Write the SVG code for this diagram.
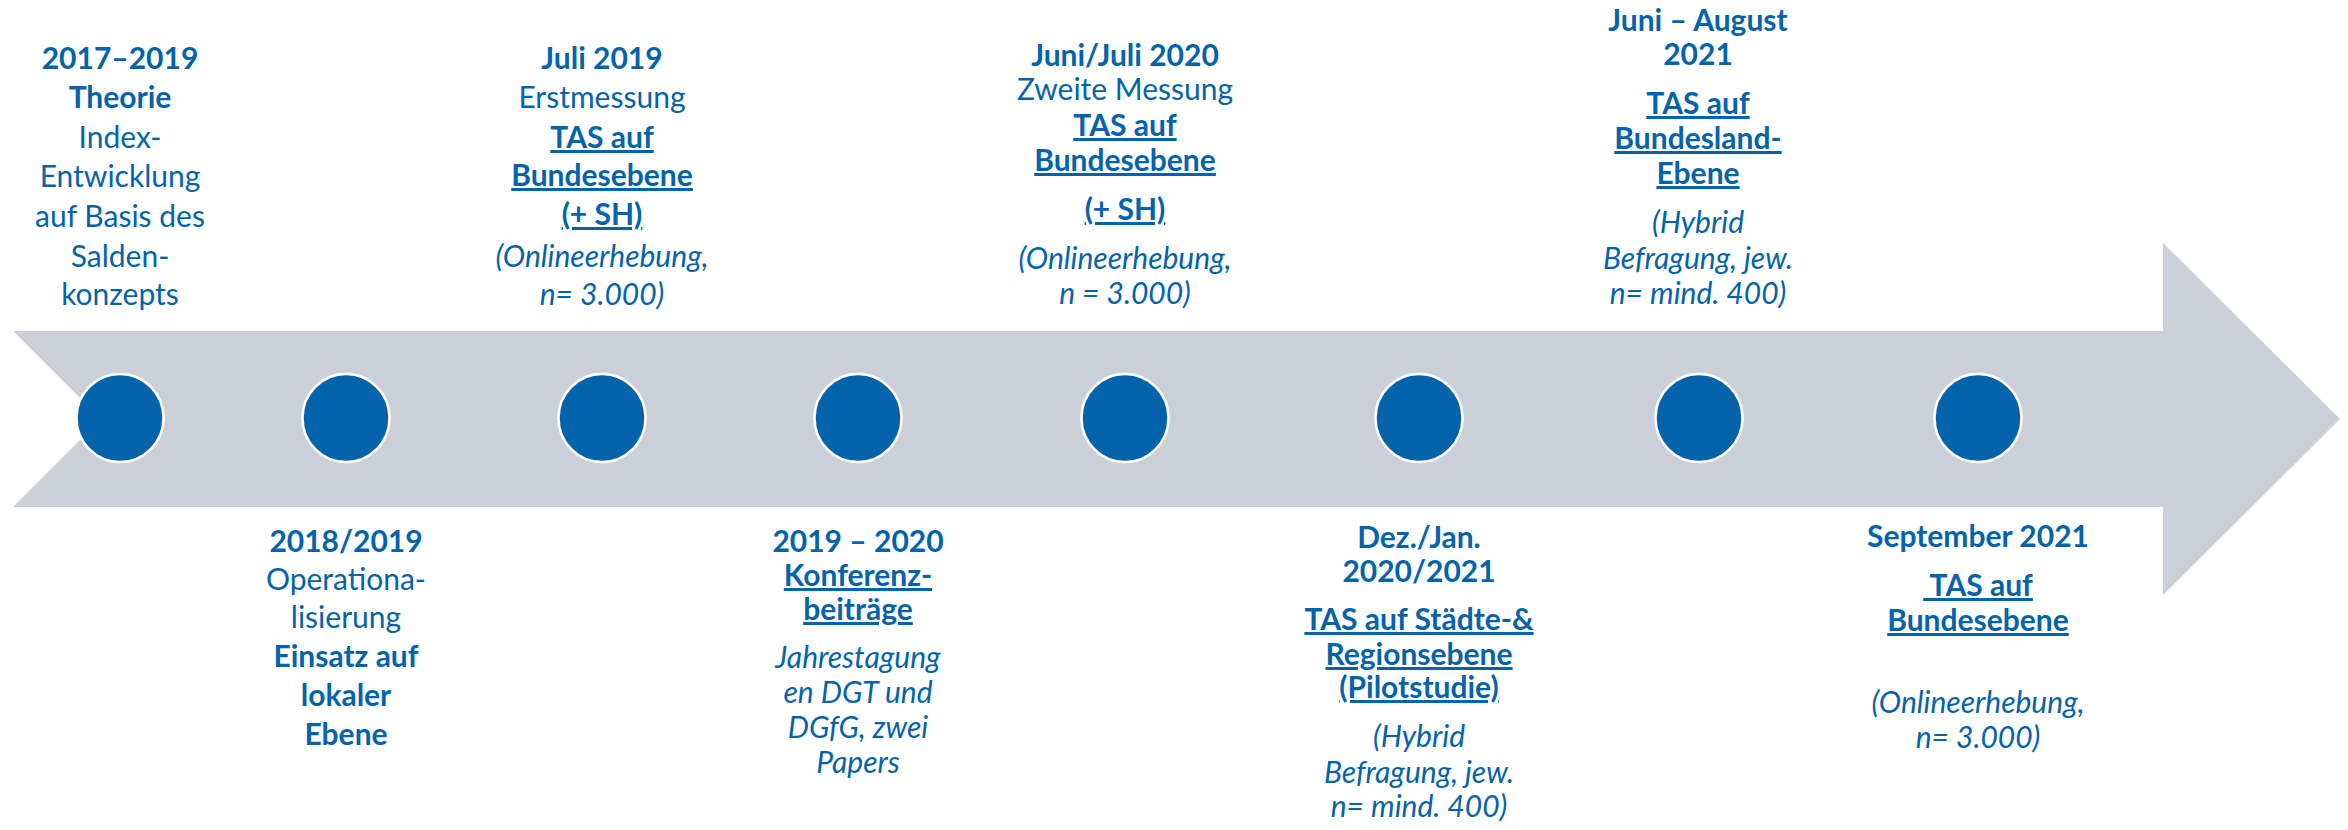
<svg xmlns="http://www.w3.org/2000/svg" width="2348" height="830" viewBox="0 0 2348 830">
<style>
text{font-family:Lato,"Noto Sans","Liberation Sans",sans-serif;font-size:30px;fill:#0563AB;text-anchor:middle}
.b{font-weight:bold}
.i{font-style:italic}
.u{text-decoration:underline;text-decoration-thickness:3px;text-underline-offset:4px}
.dot{fill:#0563AB;stroke:#ffffff;stroke-width:2.5}
</style>
<rect width="2348" height="830" fill="#ffffff"/>
<g id="timeline-arrow">
<path d="M13,331 L2163,331 L2163,243 L2340,419 L2163,595 L2163,507 L13,507 L101,419 Z" fill="#CBCFD7"/>
</g>
<g id="connectors"></g>
<g id="dots">
<ellipse class="dot" cx="120" cy="418" rx="43.5" ry="44"/>
<ellipse class="dot" cx="346" cy="418" rx="43.5" ry="44"/>
<ellipse class="dot" cx="602" cy="418" rx="43.5" ry="44"/>
<ellipse class="dot" cx="858" cy="418" rx="43.5" ry="44"/>
<ellipse class="dot" cx="1125" cy="418" rx="43.5" ry="44"/>
<ellipse class="dot" cx="1419" cy="418" rx="43.5" ry="44"/>
<ellipse class="dot" cx="1699" cy="418" rx="43.5" ry="44"/>
<ellipse class="dot" cx="1978" cy="418" rx="43.5" ry="44"/>
</g>
<g id="m2017">
<text x="120" y="69" class="b">2017–2019</text>
<text x="120" y="108" class="b">Theorie</text>
<text x="120" y="148">Index-</text>
<text x="120" y="187">Entwicklung</text>
<text x="120" y="227">auf Basis des</text>
<text x="120" y="267">Salden-</text>
<text x="120" y="305">konzepts</text>
</g>
<g id="m2018">
<text x="346" y="552" class="b">2018/2019</text>
<text x="346" y="590">Operationa-</text>
<text x="346" y="628">lisierung</text>
<text x="346" y="667" class="b">Einsatz auf</text>
<text x="346" y="706" class="b">lokaler</text>
<text x="346" y="745" class="b">Ebene</text>
</g>
<g id="m2019juli">
<text x="602" y="69" class="b">Juli 2019</text>
<text x="602" y="108">Erstmessung</text>
<text x="602" y="148" class="b u">TAS auf</text>
<text x="602" y="186" class="b u">Bundesebene</text>
<text x="602" y="225" class="b u">(+ SH)</text>
<text x="602" y="267" class="i">(Onlineerhebung,</text>
<text x="602" y="305" class="i">n= 3.000)</text>
</g>
<g id="m2019konf">
<text x="858" y="552" class="b">2019 – 2020</text>
<text x="858" y="586" class="b u">Konferenz-</text>
<text x="858" y="620" class="b u">beiträge</text>
<text x="858" y="668" class="i">Jahrestagung</text>
<text x="858" y="703" class="i">en DGT und</text>
<text x="858" y="738" class="i">DGfG, zwei</text>
<text x="858" y="773" class="i">Papers</text>
</g>
<g id="m2020juni">
<text x="1125" y="66" class="b">Juni/Juli 2020</text>
<text x="1125" y="100">Zweite Messung</text>
<text x="1125" y="136" class="b u">TAS auf</text>
<text x="1125" y="171" class="b u">Bundesebene</text>
<text x="1125" y="220" class="b u">(+ SH)</text>
<text x="1125" y="269" class="i">(Onlineerhebung,</text>
<text x="1125" y="304" class="i">n = 3.000)</text>
</g>
<g id="m2020dez">
<text x="1419" y="548" class="b">Dez./Jan.</text>
<text x="1419" y="582" class="b">2020/2021</text>
<text x="1419" y="630" class="b u">TAS auf Städte-&amp;</text>
<text x="1419" y="665" class="b u">Regionsebene</text>
<text x="1419" y="698" class="b u">(Pilotstudie)</text>
<text x="1419" y="747" class="i">(Hybrid</text>
<text x="1419" y="783" class="i">Befragung, jew.</text>
<text x="1419" y="817" class="i">n= mind. 400)</text>
</g>
<g id="m2021juni">
<text x="1698" y="31" class="b">Juni – August</text>
<text x="1698" y="65" class="b">2021</text>
<text x="1698" y="114" class="b u">TAS auf</text>
<text x="1698" y="149" class="b u">Bundesland-</text>
<text x="1698" y="184" class="b u">Ebene</text>
<text x="1698" y="233" class="i">(Hybrid</text>
<text x="1698" y="269" class="i">Befragung, jew.</text>
<text x="1698" y="304" class="i">n= mind. 400)</text>
</g>
<g id="m2021sep">
<text x="1978" y="547" class="b">September 2021</text>
<text x="1978" y="596" class="b u" xml:space="preserve" style="white-space:pre"> TAS auf</text>
<text x="1978" y="631" class="b u">Bundesebene</text>
<text x="1978" y="713" class="i">(Onlineerhebung,</text>
<text x="1978" y="748" class="i">n= 3.000)</text>
</g>
</svg>
